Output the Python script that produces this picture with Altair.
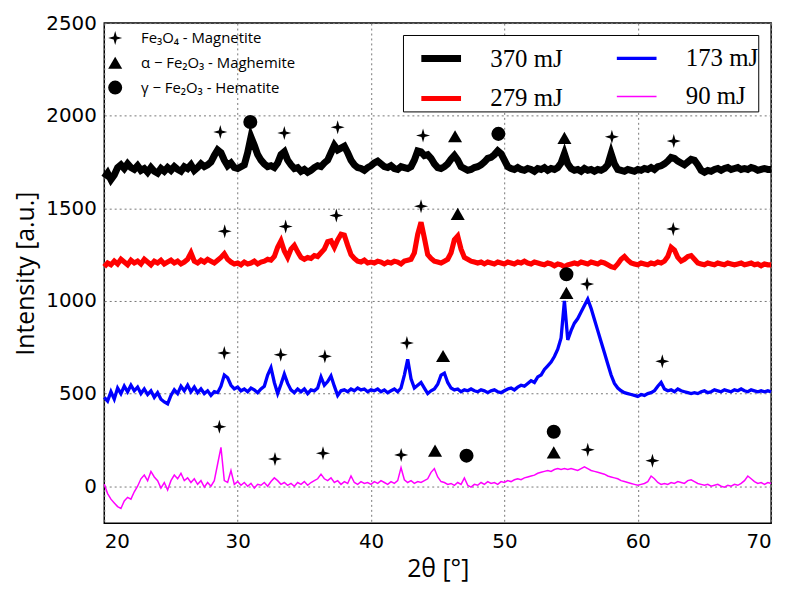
import altair as alt
import pandas as pd

# ---- data -------------------------------------------------------------
two_theta = [20 + 0.25 * i for i in range(201)]

# legend order (column-major in a 2-column legend)
series_names = ["370 mJ", "279 mJ", "173 mJ", "90 mJ"]

i370 = [
    1665, 1690, 1655, 1680, 1720, 1735, 1715, 1740, 1720, 1710, 1730, 1705, 1715, 1695, 1720, 1700, 1690, 1715, 1700, 1720,
    1705, 1725, 1710, 1700, 1725, 1715, 1735, 1705, 1720, 1740, 1725, 1735, 1750, 1785, 1815, 1800, 1760, 1730, 1745, 1720,
    1715, 1725, 1735, 1800, 1885, 1840, 1790, 1760, 1740, 1725, 1730, 1720, 1745, 1790, 1805, 1760, 1735, 1715, 1720, 1700,
    1710, 1695, 1705, 1720, 1730, 1725, 1745, 1760, 1800, 1840, 1815, 1825, 1835, 1800, 1760, 1735, 1720, 1715, 1705, 1720,
    1730, 1745, 1755, 1740, 1725, 1720, 1730, 1715, 1710, 1725, 1720, 1715, 1725, 1760, 1810, 1805, 1785, 1790, 1770, 1740,
    1720, 1715, 1725, 1740, 1765, 1785, 1760, 1725, 1715, 1705, 1710, 1720, 1725, 1735, 1750, 1770, 1775, 1790, 1810, 1795,
    1760, 1725, 1715, 1710, 1720, 1710, 1705, 1715, 1710, 1700, 1715, 1710, 1720, 1705, 1715, 1710, 1720, 1745, 1795, 1740,
    1715, 1705, 1710, 1700, 1715, 1705, 1710, 1700, 1710, 1705, 1715, 1735, 1795, 1740, 1710, 1705, 1700, 1710, 1705, 1700,
    1710, 1705, 1715, 1710, 1720, 1710, 1725, 1730, 1740, 1755, 1775, 1770, 1755, 1745, 1735, 1750, 1765, 1760, 1735, 1705,
    1695, 1705, 1700, 1710, 1715, 1705, 1715, 1720, 1710, 1715, 1720, 1710, 1715, 1710, 1720, 1715, 1705, 1710, 1715, 1710,
    1710,
]

i279 = [
    1185, 1205, 1195, 1215, 1200, 1225, 1210, 1195, 1220, 1205, 1215, 1200, 1225, 1210, 1195, 1215, 1205, 1220, 1200, 1210,
    1220, 1205, 1215, 1200, 1210, 1225, 1260, 1215, 1205, 1220, 1210, 1225, 1215, 1205, 1220, 1235, 1255, 1225, 1210, 1200,
    1205, 1195, 1210, 1200, 1205, 1215, 1200, 1210, 1215, 1225, 1220, 1240, 1290, 1325, 1270, 1235, 1280, 1300, 1265, 1235,
    1225, 1235, 1230, 1245, 1240, 1260, 1280, 1320, 1325, 1290, 1330, 1360, 1355, 1300, 1250, 1230, 1215, 1210, 1220, 1205,
    1210, 1205, 1215, 1210, 1200, 1210, 1205, 1215, 1210, 1200, 1215, 1220, 1225, 1260, 1360, 1425, 1340, 1250, 1230, 1215,
    1210, 1205, 1215, 1225, 1260, 1330, 1350, 1280, 1235, 1225, 1215, 1210, 1205, 1210, 1200, 1210, 1205, 1200, 1210, 1205,
    1200, 1210, 1205, 1200, 1210, 1205, 1215, 1205, 1200, 1210, 1205, 1200, 1195, 1205, 1200, 1190, 1200, 1195, 1185, 1195,
    1200, 1205, 1200, 1210, 1205, 1200, 1210, 1205, 1200, 1210, 1205, 1195, 1185, 1180, 1200, 1225, 1240, 1220, 1205, 1200,
    1195, 1205, 1200, 1195, 1205, 1200, 1210, 1205, 1215, 1240, 1290, 1275, 1235, 1215, 1225, 1240, 1245, 1225, 1205, 1200,
    1195, 1205, 1200, 1195, 1205, 1200, 1195, 1205, 1200, 1195, 1200, 1205, 1195, 1200, 1205, 1195, 1200, 1190, 1200, 1195,
    1195,
]

i173 = [
    480, 460, 510, 470, 530, 500, 540, 510, 545, 515, 535, 500, 525, 495, 515, 480, 505, 470, 455, 445,
    490, 520, 500, 540, 515, 545, 510, 535, 505, 525, 500, 515, 490, 510, 505, 540, 600, 585, 545, 525,
    535, 515, 525, 510, 530, 520, 505, 525, 540, 600, 640, 560, 500, 550, 605, 555, 520, 505, 525, 510,
    525, 500, 520, 515, 530, 590, 545, 565, 595, 540, 490, 515, 520, 510, 525, 515, 530, 520, 525, 510,
    520, 515, 525, 510, 520, 505, 515, 525, 510, 530, 600, 685, 580, 530, 545, 560, 530, 500, 515, 525,
    550, 600, 610, 560, 530, 520, 525, 510, 520, 515, 525, 515, 510, 520, 515, 505, 515, 520, 510, 505,
    515, 525, 530, 520, 535, 545, 540, 555, 570, 560, 590, 600, 630, 650, 670, 700, 740, 800, 1000, 790,
    840, 880, 905, 940, 975, 1010, 960, 900, 840, 780, 720, 660, 600, 555, 530, 515, 505, 500, 495, 490,
    485, 495, 490, 500, 505, 515, 540, 560, 525, 515, 520, 510, 525, 515, 510, 505, 500, 505, 500, 510,
    515, 505, 510, 520, 515, 510, 520, 515, 510, 520, 515, 525, 515, 510, 520, 515, 510, 515, 510, 515,
    510,
]

i90 = [
    10, -40, -70, -90, -110, -120, -80, -60, -70, -30, 0, 40, 60, 30, 80, 50, 30, -10, 20, -20,
    30, 60, 40, 70, 30, 45, 20, 40, 10, 30, -5, 20, 0, 30, 120, 210, 30, 20, 85, 10,
    25, 5, 20, 0, 15, -10, 10, 5, 20, 0, 25, 45, 30, 10, 20, 5, 15, 0, 20, 10,
    25, 5, 20, 30, 40, 65, 40, 30, 45, 20, 30, 10, 25, 15, 55, 20, 10, 25, 15, 20,
    10, 25, 15, 30, 20, 10, 25, 15, 30, 100, 35, 20, 30, 15, 25, 20, 30, 40, 75, 95,
    50, 25, 20, 10, 15, 5, 20, 10, 45, 5, -5, 10, 5, 20, 10, 25, 15, 20, 10, 25,
    20, 30, 25, 35, 40, 35, 45, 50, 55, 60, 70, 75, 80, 85, 80, 90, 95, 90, 95, 90,
    95, 90, 85, 95, 105, 95, 85, 80, 75, 70, 65, 55, 50, 45, 40, 30, 25, 20, 15, 10,
    5, 10, 15, 25, 55, 40, 20, 10, 15, 10, 20, 15, 25, 20, 15, 30, 35, 25, 15, 10,
    5, 10, 0, 5, 10, 0, -5, 5, 0, 10, 5, 15, 30, 55, 40, 25, 15, 20, 10, 20,
    15,
]

phase_names = ["Fe₃O₄ - Magnetite", "α − Fe₂O₃ - Maghemite", "γ − Fe₂O₃ - Hematite"]

# peak markers: position (2theta), height, phase index
marker_x = [28.7, 30.95, 33.5, 37.5, 43.9, 46.3, 49.55, 54.5, 58.06, 62.7,
            29.03, 33.6, 37.4, 43.75, 46.5, 62.66,
            29.0, 33.23, 36.54, 42.69, 45.4, 54.65, 54.65, 56.2, 61.84,
            28.63, 32.8, 36.4, 42.26, 44.8, 47.16, 53.7, 53.7, 56.25, 61.1]
marker_y = [1912, 1966, 1907, 1938, 1893, 1889, 1902, 1880, 1886, 1863,
            1376, 1402, 1461, 1511, 1470, 1389,
            719, 710, 701, 773, 703, 1044, 1144, 1091, 674,
            321, 147, 178, 169, 192, 165, 294, 183, 197, 138]
marker_phase = [0, 2, 0, 0, 0, 1, 2, 1, 0, 0,
                0, 0, 0, 0, 1, 0,
                0, 0, 0, 0, 1, 1, 2, 0, 0,
                0, 0, 0, 0, 1, 2, 2, 1, 0, 0]

# ---- tables -------------------------------------------------------------
rows = []
for name, vals in zip(["370 mJ", "279 mJ", "173 mJ", "90 mJ"], [i370, i279, i173, i90]):
    for x, y in zip(two_theta, vals):
        rows.append({"t": x, "I": y, "s": name})
lines_df = pd.DataFrame(rows)

marks_df = pd.DataFrame({
    "t": marker_x,
    "I": marker_y,
    "p": [phase_names[k] for k in marker_phase],
})

STAR = "M0,-1L0.22,-0.22L1,0L0.22,0.22L0,1L-0.22,0.22L-1,0L-0.22,-0.22Z"

xscale = alt.Scale(domain=[20, 70], nice=False, zero=False)
yscale = alt.Scale(domain=[-200, 2500], nice=False, zero=False)

xaxis = alt.Axis(values=[20, 30, 40, 50, 60, 70], title="2θ [°]", format="d")
yaxis = alt.Axis(values=[0, 500, 1000, 1500, 2000, 2500], title="Intensity [a.u.]", format="d")

line_legend = alt.Legend(
    orient="none", legendX=301, legendY=12, columns=2, title=None,
    fillColor="white", strokeColor="black", padding=0,
    symbolType="stroke", symbolSize=1600, symbolOffset=15,
    labelFont="Liberation Serif", labelFontSize=25, labelOffset=26,
    columnPadding=36, rowPadding=3, labelLimit=200,
)

lines = alt.Chart(lines_df).mark_line().encode(
    x=alt.X("t:Q", scale=xscale, axis=xaxis),
    y=alt.Y("I:Q", scale=yscale, axis=yaxis),
    color=alt.Color("s:N", scale=alt.Scale(domain=series_names,
                                           range=["#000000", "#ff0000", "#0000ff", "#ff00ff"]),
                    legend=line_legend),
    strokeWidth=alt.StrokeWidth("s:N", scale=alt.Scale(domain=series_names, range=[7, 1.5]),
                                legend=line_legend),
    detail="s:N",
)

shape_legend = alt.Legend(
    orient="none", legendX=3, legendY=7, title=None,
    labelFont="Open Sans", labelFontSize=15, labelOffset=18,
    symbolSize=200, symbolFillColor="black", symbolStrokeColor="black",
    rowPadding=4, labelLimit=300,
)

points = alt.Chart(marks_df).mark_point(filled=True, color="black", opacity=1, size=200).encode(
    x=alt.X("t:Q", scale=xscale),
    y=alt.Y("I:Q", scale=yscale),
    shape=alt.Shape("p:N", scale=alt.Scale(domain=phase_names,
                                           range=[STAR, "triangle-up", "circle"]),
                    legend=shape_legend),
)

chart = alt.layer(lines, points).properties(
    width=672, height=504,
    autosize=alt.AutoSizeParams(type="none"),
    padding={"left": 97, "top": 13, "right": 20, "bottom": 60},
).configure_view(
    stroke="black", strokeWidth=1.5,
).configure_axis(
    grid=True, gridDash=[2, 3], gridColor="#777777", gridWidth=1,
    domain=False, ticks=False,
    labelFont="DejaVu Sans", labelFontSize=20, labelColor="black",
    titleFont="Open Sans", titleFontSize=25, titleFontWeight="normal", titleColor="black",
).configure_axisX(
    labelPadding=8, titlePadding=6,
).configure_axisY(
    labelPadding=8, titlePadding=7,
)

chart.save("out.html", embed_options={"renderer": "svg", "actions": False})
